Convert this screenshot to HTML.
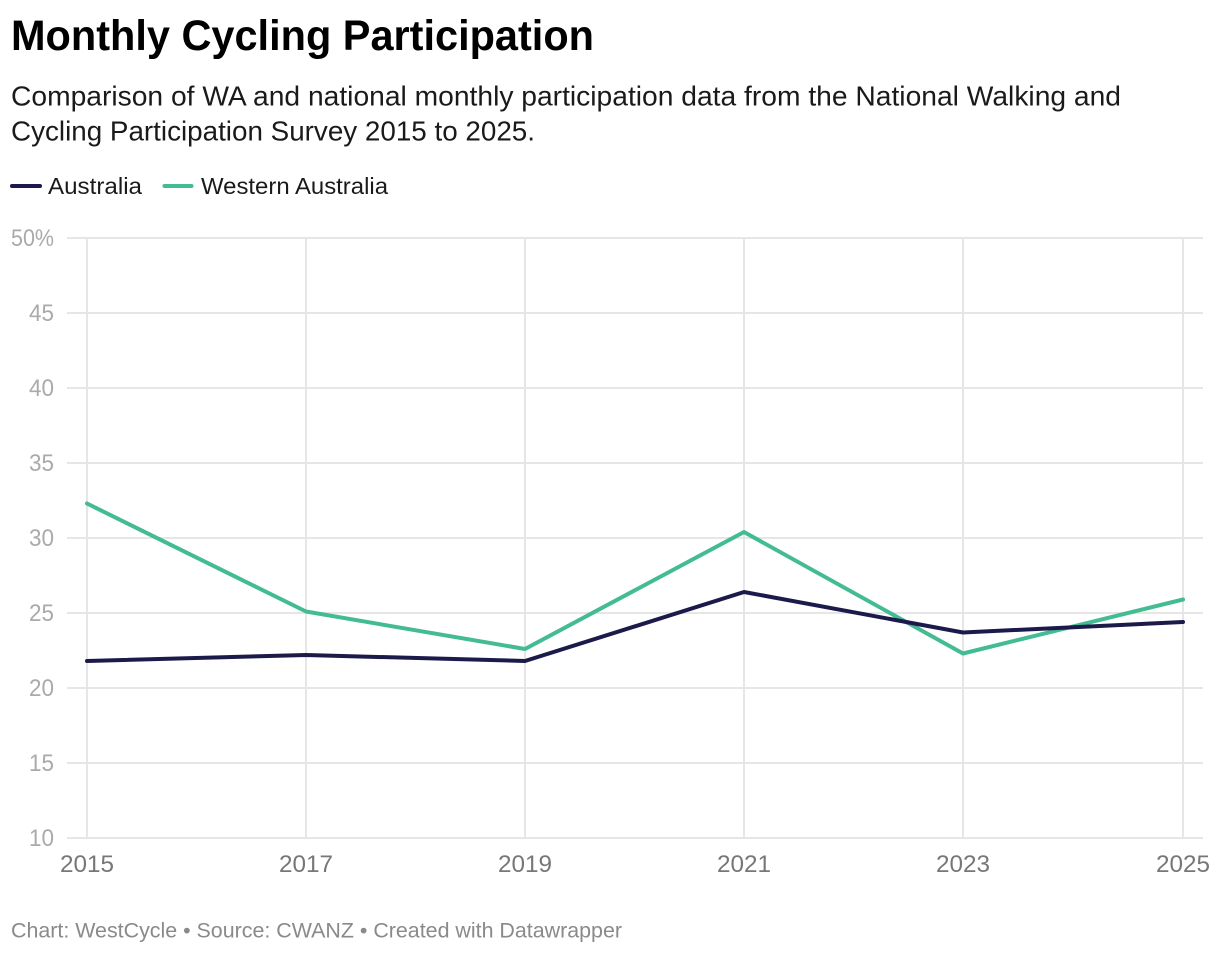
<!DOCTYPE html>
<html lang="en">
<head>
<meta charset="utf-8">
<title>Monthly Cycling Participation</title>
<style>
html,body{margin:0;padding:0;background:#fff;width:1220px;height:954px;overflow:hidden}
svg{display:block;font-family:"Liberation Sans",sans-serif}
</style>
</head>
<body>
<svg id="chart" width="1220" height="954" viewBox="0 0 1220 954" xmlns="http://www.w3.org/2000/svg">
  <text x="11" y="50" font-size="43" font-weight="700" fill="#000" textLength="583" lengthAdjust="spacingAndGlyphs">Monthly Cycling Participation</text>
  <text x="11" y="105.5" font-size="28" fill="#1a1a1a" textLength="1110" lengthAdjust="spacingAndGlyphs">Comparison of WA and national monthly participation data from the National Walking and</text>
  <text x="11" y="140.5" font-size="28" fill="#1a1a1a" textLength="524" lengthAdjust="spacingAndGlyphs">Cycling Participation Survey 2015 to 2025.</text>
  <g>
    <line x1="12" y1="186" x2="40" y2="186" stroke="#1b1a4b" stroke-width="4" stroke-linecap="round"/>
    <text x="48" y="194" font-size="23.5" fill="#1a1a1a" textLength="94" lengthAdjust="spacingAndGlyphs">Australia</text>
    <line x1="164.5" y1="186" x2="191.5" y2="186" stroke="#43bb93" stroke-width="4" stroke-linecap="round"/>
    <text x="201" y="194" font-size="23.5" fill="#1a1a1a" textLength="187" lengthAdjust="spacingAndGlyphs">Western Australia</text>
  </g>
  <g id="grid"></g>
  <g id="yaxis"></g>
  <g id="xaxis"></g>
  <g id="series"></g>
  <text x="11" y="937.5" font-size="21" fill="#8a8a8a" textLength="611" lengthAdjust="spacingAndGlyphs">Chart: WestCycle • Source: CWANZ • Created with Datawrapper</text>
</svg>
<script>
const years = [2015, 2017, 2019, 2021, 2023, 2025];
const australia = [21.8, 22.2, 21.8, 26.4, 23.7, 24.4];
const westernAustralia = [32.3, 25.1, 22.6, 30.4, 22.3, 25.9];
const yTicks = [10, 15, 20, 25, 30, 35, 40, 45, 50];
const xTickLabels = ['2015', '2017', '2019', '2021', '2023', '2025'];

const NS = 'http://www.w3.org/2000/svg';
function xScale(year) { return Math.floor(87 + (year - 2015) * (1183 - 87) / 10); }
function yScale(v) { return 838 - (v - 10) * (838 - 238) / 40; }
function make(tag, props, parent) {
  const el = document.createElementNS(NS, tag);
  for (const k in props) el.setAttribute(k, props[k]);
  parent.appendChild(el);
  return el;
}
const grid = document.getElementById('grid');
const yaxis = document.getElementById('yaxis');
const xaxis = document.getElementById('xaxis');
const seriesG = document.getElementById('series');

yTicks.forEach(function (t) {
  const l = make('line', {x1: 67, x2: 1203, y1: yScale(t), y2: yScale(t), stroke: '#e6e6e6', 'stroke-width': 2}, grid);
  
  
  const isTop = t === 50;
  const label = make('text', {x: 54, y: yScale(t) + 8, 'font-size': 24, fill: '#aaaaaa', 'text-anchor': 'end', textLength: isTop ? 43 : 25, lengthAdjust: 'spacingAndGlyphs'}, yaxis);
  
  
  label.textContent = isTop ? t + '%' : String(t);
});

years.forEach(function (y, i) {
  const l = make('line', {x1: xScale(y), x2: xScale(y), y1: 238, y2: 838, stroke: '#e6e6e6', 'stroke-width': 2}, grid);
  
  
  const label = make('text', {x: xScale(y), y: 872, 'font-size': 24, fill: '#777777', 'text-anchor': 'middle', textLength: 54, lengthAdjust: 'spacingAndGlyphs'}, xaxis);
  
  
  label.textContent = xTickLabels[i];
});

function pathFor(values) {
  return values.map(function (v, i) {
    return (i ? 'L' : 'M') + xScale(years[i]) + ' ' + yScale(v);
  }).join(' ');
}
const waLine = make('path', {d: pathFor(westernAustralia), fill: 'none', stroke: '#43bb93', 'stroke-width': 4, 'stroke-linecap': 'round', 'stroke-linejoin': 'round'}, seriesG);


const auLine = make('path', {d: pathFor(australia), fill: 'none', stroke: '#1b1a4b', 'stroke-width': 4, 'stroke-linecap': 'round', 'stroke-linejoin': 'round'}, seriesG);


</script>
</body>
</html>
